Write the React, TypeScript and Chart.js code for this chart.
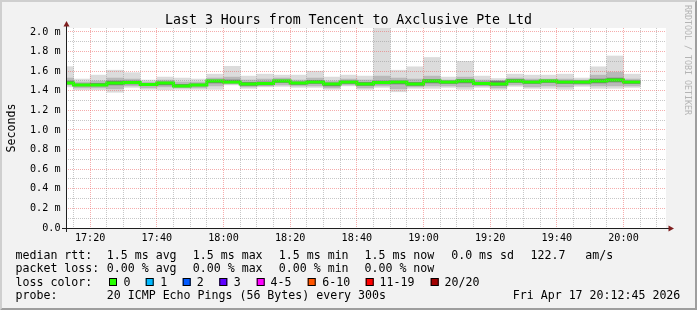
import React, { useEffect, useRef } from 'react';
import { Chart, registerables } from 'chart.js';

Chart.register(...registerables);

// ---- data ----
const stepTimes = ['17:15','17:20','17:25','17:30','17:35','17:40','17:45','17:50','17:55','18:00','18:05','18:10','18:15','18:20','18:25','18:30','18:35','18:40','18:45','18:50','18:55','19:00','19:05','19:10','19:15','19:20','19:25','19:30','19:35','19:40','19:45','19:50','19:55','20:00','20:05'];
const rttMax = [1.646,1.52,1.56,1.61,1.585,1.51,1.54,1.53,1.52,1.57,1.65,1.55,1.57,1.56,1.56,1.60,1.54,1.56,1.55,2.06,1.61,1.645,1.74,1.54,1.70,1.55,1.525,1.57,1.56,1.56,1.57,1.53,1.645,1.755,1.57];
const rttHi = [1.53,1.49,1.50,1.53,1.52,1.49,1.51,1.49,1.49,1.53,1.54,1.51,1.52,1.53,1.51,1.53,1.50,1.52,1.51,1.55,1.53,1.52,1.55,1.51,1.54,1.51,1.50,1.53,1.52,1.52,1.52,1.51,1.56,1.59,1.52];
const coreHi = [1.50,1.47,1.475,1.50,1.50,1.475,1.49,1.465,1.47,1.51,1.51,1.485,1.49,1.51,1.49,1.505,1.48,1.50,1.485,1.50,1.50,1.485,1.515,1.50,1.515,1.49,1.50,1.515,1.50,1.51,1.50,1.50,1.52,1.53,1.50];
const rttMedian = [1.48,1.46,1.46,1.48,1.485,1.465,1.48,1.45,1.46,1.50,1.49,1.47,1.475,1.50,1.48,1.49,1.47,1.49,1.47,1.485,1.49,1.47,1.50,1.49,1.50,1.475,1.47,1.50,1.49,1.50,1.49,1.49,1.50,1.51,1.49];
const coreLo = [1.47,1.45,1.45,1.46,1.47,1.455,1.46,1.44,1.45,1.48,1.48,1.455,1.46,1.485,1.465,1.475,1.45,1.475,1.455,1.47,1.47,1.455,1.48,1.475,1.48,1.46,1.455,1.485,1.475,1.485,1.475,1.475,1.48,1.49,1.475];
const rttLo = [1.46,1.43,1.43,1.42,1.45,1.43,1.44,1.43,1.43,1.45,1.47,1.44,1.45,1.46,1.45,1.45,1.43,1.46,1.43,1.45,1.42,1.44,1.45,1.45,1.44,1.45,1.43,1.46,1.44,1.45,1.44,1.46,1.45,1.45,1.45];
const rttMin = [1.44,1.41,1.41,1.385,1.435,1.415,1.41,1.415,1.415,1.415,1.46,1.425,1.44,1.445,1.435,1.435,1.415,1.45,1.415,1.435,1.39,1.425,1.425,1.435,1.415,1.435,1.415,1.445,1.425,1.425,1.415,1.445,1.425,1.425,1.435];

const windowStart = '17:12:45';
const windowEnd = '20:12:45';
const stepMinutes = 5;
const xTickLabels = ['17:20','17:40','18:00','18:20','18:40','19:00','19:20','19:40','20:00'];
const yTickValues = [0, 0.2, 0.4, 0.6, 0.8, 1.0, 1.2, 1.4, 1.6, 1.8, 2.0];
const yTickLabels = ['0.0','0.2 m','0.4 m','0.6 m','0.8 m','1.0 m','1.2 m','1.4 m','1.6 m','1.8 m','2.0 m'];
const yMax = 2.0408;

const titleText = 'Last 3 Hours from Tencent to Axclusive Pte Ltd';
const yAxisTitle = 'Seconds';
const watermark = 'RRDTOOL / TOBI OETIKER';
const rttStats = ['1.5 ms avg','1.5 ms max','1.5 ms min','1.5 ms now','0.0 ms sd','122.7','am/s'];
const lossStats = ['0.00 % avg','0.00 % max','0.00 % min','0.00 % now'];
const lossLabels = ['0','1','2','3','4-5','6-10','11-19','20/20'];
const lossColors = ['#26ff00','#00b8ff','#0059ff','#5e00ff','#ff00ff','#ff5500','#ff0000','#a10000'];
const probeText = '20 ICMP Echo Pings (56 Bytes) every 300s';
const dateText = 'Fri Apr 17 20:12:45 2026';

// ---- layout (pixels) ----
const W = 697, H = 310;
const statX = [107.3, 193.3, 279.3, 365, 451.7, 531, 585.7];
const boxX = [109, 145.7, 182.7, 219.3, 256.7, 307.7, 365.7, 430.7];
const lossLabelX = [124, 160.7, 197.3, 234.3, 271, 322.7, 380, 445];
const MONO = '"DejaVu Sans Mono", monospace';

const toMin = (s: string) => {
  const p = s.split(':').map(Number);
  return p[0] * 60 + p[1] + (p[2] || 0) / 60;
};

const xMin = toMin(windowStart);
const xMax = toMin(windowEnd);
const xMajor = xTickLabels.map(toMin);

function band(lo: number[], hi: number[], color: string, order: number) {
  return {
    type: 'bar' as const,
    data: stepTimes.map((t, i) => ({ x: toMin(t) - stepMinutes / 2, y: [lo[i], hi[i]] })),
    backgroundColor: color,
    borderWidth: 0,
    borderSkipped: false,
    grouped: false,
    categoryPercentage: 1,
    barPercentage: 1,
    order,
  };
}

const medianPoints: { x: number; y: number }[] = [];
stepTimes.forEach((t, i) => {
  medianPoints.push({ x: toMin(t) - stepMinutes, y: rttMedian[i] });
  medianPoints.push({ x: toMin(t), y: rttMedian[i] });
});

const rrdPlugin = {
  id: 'rrdDecor',
  beforeDraw(chart: any) {
    const { ctx, chartArea: a } = chart;
    ctx.save();
    ctx.fillStyle = '#f2f2f2';
    ctx.fillRect(0, 0, W, H);
    ctx.fillStyle = '#cfcfcf';
    ctx.beginPath();
    ctx.moveTo(0, 0); ctx.lineTo(W, 0); ctx.lineTo(W - 2, 2); ctx.lineTo(2, 2); ctx.lineTo(2, H - 2); ctx.lineTo(0, H);
    ctx.closePath(); ctx.fill();
    ctx.fillStyle = '#9e9e9e';
    ctx.beginPath();
    ctx.moveTo(W, 0); ctx.lineTo(W, H); ctx.lineTo(0, H); ctx.lineTo(2, H - 2); ctx.lineTo(W - 2, H - 2); ctx.lineTo(W - 2, 2);
    ctx.closePath(); ctx.fill();
    ctx.fillStyle = '#ffffff';
    ctx.fillRect(a.left, a.top, a.right - a.left, a.bottom - a.top);
    ctx.restore();
  },
  afterDraw(chart: any) {
    const { ctx, chartArea: a } = chart;
    ctx.save();
    // axes
    ctx.strokeStyle = '#1f1f1f';
    ctx.lineWidth = 1;
    ctx.beginPath();
    ctx.moveTo(a.left - 4, a.bottom + 0.5);
    ctx.lineTo(a.right + 4, a.bottom + 0.5);
    ctx.moveTo(a.left + 0.5, a.bottom + 4);
    ctx.lineTo(a.left + 0.5, a.top - 4);
    ctx.stroke();
    ctx.fillStyle = '#7f1f1f';
    ctx.beginPath();
    ctx.moveTo(a.right + 8, a.bottom + 0.5);
    ctx.lineTo(a.right + 2.5, a.bottom - 2.5);
    ctx.lineTo(a.right + 2.5, a.bottom + 3.5);
    ctx.closePath(); ctx.fill();
    ctx.beginPath();
    ctx.moveTo(a.left + 0.5, a.top - 7);
    ctx.lineTo(a.left - 2.5, a.top - 1.5);
    ctx.lineTo(a.left + 3.5, a.top - 1.5);
    ctx.closePath(); ctx.fill();

    // title
    ctx.fillStyle = '#000';
    ctx.textBaseline = 'alphabetic';
    ctx.font = `13.25px ${MONO}`;
    ctx.textAlign = 'center';
    ctx.fillText(titleText, 348.5, 24);

    // y axis title
    ctx.save();
    ctx.font = `11.6px ${MONO}`;
    ctx.translate(15, (a.top + a.bottom) / 2);
    ctx.rotate(-Math.PI / 2);
    ctx.fillText(yAxisTitle, 0, 0);
    ctx.restore();

    // watermark
    ctx.save();
    ctx.font = `8.3px ${MONO}`;
    ctx.fillStyle = '#b4b4b4';
    ctx.translate(685, 60);
    ctx.rotate(Math.PI / 2);
    ctx.fillText(watermark, 0, 0);
    ctx.restore();

    // legend
    ctx.font = `11.6px ${MONO}`;
    ctx.textAlign = 'left';
    ctx.fillStyle = '#000';
    const rows = [258.5, 272, 285.7, 299.3];
    ctx.fillText('median rtt:', 15.5, rows[0]);
    rttStats.forEach((s, i) => ctx.fillText(s, statX[i] - 0.5, rows[0]));
    ctx.fillText('packet loss:', 15.5, rows[1]);
    lossStats.forEach((s, i) => ctx.fillText(s, statX[i] - 0.5, rows[1]));
    ctx.fillText('loss color:', 15.5, rows[2]);
    lossLabels.forEach((s, i) => {
      ctx.fillStyle = lossColors[i];
      ctx.fillRect(boxX[i], 278, 8, 8);
      ctx.strokeStyle = '#000';
      ctx.lineWidth = 1;
      ctx.strokeRect(boxX[i] + 0.5, 278.5, 7, 7);
      ctx.fillStyle = '#000';
      ctx.fillText(s, lossLabelX[i] - 0.5, rows[2]);
    });
    ctx.fillText('probe:', 15.5, rows[3]);
    ctx.fillText(probeText, statX[0] - 0.5, rows[3]);
    ctx.fillText(dateText, 512.8, rows[3]);
    ctx.restore();
  },
};

const MINOR_GRID = 'rgba(143,143,143,0.5)';
const MAJOR_GRID = 'rgba(235,90,90,0.5)';

export default function App() {
  const ref = useRef<HTMLCanvasElement>(null);
  useEffect(() => {
    if (!ref.current) return;
    const chart = new Chart(ref.current, {
      type: 'bar',
      data: {
        datasets: [
          band(rttMin, rttMax, '#dcdcdc', 5) as any,
          band(rttLo, rttHi, '#b9b9b9', 4) as any,
          band(coreLo, coreHi, '#767676', 3) as any,
          {
            type: 'line',
            data: medianPoints,
            borderColor: '#26ff00',
            borderWidth: 3,
            pointRadius: 0,
            fill: false,
            tension: 0,
            clip: 0,
            borderJoinStyle: 'miter',
            order: 1,
          } as any,
        ],
      },
      options: {
        responsive: false,
        devicePixelRatio: 1,
        animation: false,
        events: [],
        layout: { padding: { top: 28, right: 31, bottom: 62, left: 0 } },
        plugins: {
          legend: { display: false },
          tooltip: { enabled: false },
          title: { display: false },
        },
        scales: {
          x: {
            type: 'linear',
            min: xMin,
            max: xMax,
            offset: false,
            afterFit: (s: any) => { s.height = 20; },
            afterBuildTicks: (s: any) => {
              const t = [];
              for (let v = Math.ceil(xMin / stepMinutes) * stepMinutes; v < xMax; v += stepMinutes) t.push({ value: v });
              s.ticks = t;
            },
            ticks: {
              autoSkip: false,
              maxRotation: 0,
              minRotation: 0,
              padding: 4,
              color: '#000',
              font: { family: MONO, size: 10.15 },
              callback: (v: any) => {
                const k = xMajor.indexOf(Number(v));
                return k >= 0 ? xTickLabels[k] : '';
              },
            },
            grid: {
              drawTicks: false,
              offset: false,
              lineWidth: 1,
              z: 1,
              color: (c: any) => (c.tick && xMajor.includes(c.tick.value) ? MAJOR_GRID : MINOR_GRID),
            },
            border: { display: false, dash: [1, 1] },
          },
          y: {
            type: 'linear',
            min: 0,
            max: yMax,
            afterFit: (s: any) => { s.width = 66; },
            afterBuildTicks: (s: any) => {
              const t = [];
              for (let k = 0; k <= 20; k++) t.push({ value: k / 10 });
              s.ticks = t;
            },
            ticks: {
              autoSkip: false,
              padding: 5.5,
              color: '#000',
              font: { family: MONO, size: 10.15 },
              callback: (v: any) => {
                const k = yTickValues.findIndex((y) => Math.abs(y - Number(v)) < 1e-6);
                return k >= 0 ? yTickLabels[k] : '';
              },
            },
            grid: {
              drawTicks: false,
              lineWidth: 1,
              z: 1,
              color: (c: any) => {
                if (!c.tick) return MINOR_GRID;
                const isMajor = yTickValues.some((y) => Math.abs(y - c.tick.value) < 1e-6);
                if (c.tick.value === 0) return 'rgba(0,0,0,0)';
                return isMajor ? MAJOR_GRID : MINOR_GRID;
              },
            },
            border: { display: false, dash: [1, 1] },
          },
        },
      },
      plugins: [rrdPlugin],
    } as any);
    return () => chart.destroy();
  }, []);

  return (
    <div style={{ position: 'fixed', left: 0, top: 0, width: W, height: H }}>
      <canvas ref={ref} width={W} height={H} style={{ display: 'block', width: W, height: H }} />
    </div>
  );
}
